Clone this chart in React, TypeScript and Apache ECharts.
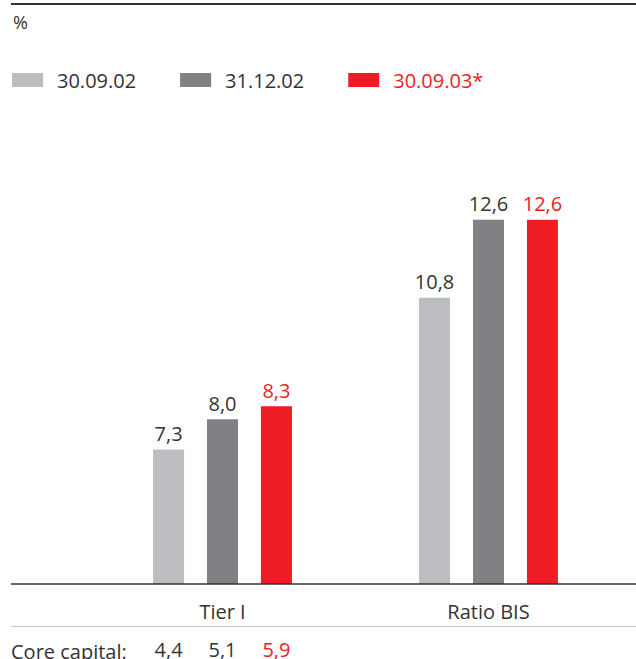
import React, { useEffect, useRef } from "react";
import * as echarts from "echarts";

const categories = ["Tier I", "Ratio BIS"];
const seriesNames = ["30.09.02", "31.12.02", "30.09.03*"];
const values = [
  [7.3, 10.8],
  [8.0, 12.6],
  [8.3, 12.6],
];
const coreCapital = [4.4, 5.1, 5.9];
const colors = ["#bcbdc1", "#808185", "#ee1c25"];
const labelColors = ["#333333", "#333333", "#ee1c25"];

const FONT = "'Open Sans', 'Noto Sans', sans-serif";

export default function App() {
  const ref = useRef<HTMLDivElement>(null);
  useEffect(() => {
    if (!ref.current) return;
    const chart = echarts.init(ref.current, null, { renderer: "svg" });
    const fmt = (v: number) => v.toFixed(1).replace(".", ",");

    const mainSeries = seriesNames.map((name, i) => ({
      name,
      type: "bar",
      xAxisIndex: 0,
      yAxisIndex: 0,
      barWidth: 31,
      barGap: "74%",
      data: values[i],
      itemStyle: { color: colors[i] },
      label: {
        show: true,
        position: "top",
        distance: 6,
        fontFamily: FONT,
        fontSize: 20,
        color: labelColors[i],
        formatter: (p: any) => fmt(p.value),
      },
    }));

    const coreSeries = seriesNames.map((name, i) => ({
      name: name + "_core",
      type: "bar",
      xAxisIndex: 1,
      yAxisIndex: 1,
      barWidth: 31,
      barGap: "74%",
      data: [coreCapital[i], null],
      itemStyle: { color: "transparent" },
      silent: true,
      label: {
        show: true,
        position: "insideBottom",
        distance: 0,
        fontFamily: FONT,
        fontSize: 20,
        lineHeight: 20,
        color: labelColors[i],
        formatter: (p: any) => fmt(p.value),
      },
    }));

    chart.setOption({
      animation: false,
      backgroundColor: "#ffffff",
      legend: {
        data: seriesNames.map((n, i) => ({
          name: n,
          textStyle: { color: labelColors[i] },
        })),
        left: 12,
        top: 70,
        padding: 0,
        icon: "rect",
        itemWidth: 31,
        itemHeight: 14,
        itemGap: 44,
        textStyle: {
          fontFamily: FONT,
          fontSize: 20,
          lineHeight: 20,
          padding: [0, 0, 0, 9],
        },
        selectedMode: false,
      },
      grid: [
        { left: 89.5, width: 532, top: 159, height: 425 },
        { left: 89.5, width: 532, top: 600, height: 61 },
      ],
      xAxis: [
        {
          type: "category",
          gridIndex: 0,
          data: categories,
          axisLine: { show: false },
          axisTick: { show: false },
          axisLabel: {
            fontFamily: FONT,
            fontSize: 20,
            lineHeight: 20,
            color: "#333333",
            margin: 17,
          },
        },
        {
          type: "category",
          gridIndex: 1,
          data: categories,
          show: false,
        },
      ],
      yAxis: [
        { type: "value", gridIndex: 0, min: 4.2, max: 14, show: false, splitLine: { show: false } },
        { type: "value", gridIndex: 1, min: 0, max: 10, show: false, splitLine: { show: false } },
      ],
      graphic: [
        {
          type: "line",
          shape: { x1: 11, y1: 4, x2: 636, y2: 4 },
          style: { stroke: "#333333", lineWidth: 2 },
        },
        {
          type: "text",
          left: 13,
          top: 13,
          style: { text: "%", fontFamily: FONT, fontSize: 18, fill: "#333333" },
        },
        {
          type: "line",
          shape: { x1: 11, y1: 584, x2: 636, y2: 584 },
          style: { stroke: "#333333", lineWidth: 1.5 },
          z: 10,
        },
        {
          type: "line",
          shape: { x1: 11, y1: 626.5, x2: 636, y2: 626.5 },
          style: { stroke: "#c8c8c8", lineWidth: 1 },
        },
        {
          type: "text",
          left: 11,
          top: 641,
          style: { text: "Core capital:", fontFamily: FONT, fontSize: 20, fill: "#333333" },
        },
      ],
      series: [...mainSeries, ...coreSeries],
    });
    return () => chart.dispose();
  }, []);
  return (
    <div
      ref={ref}
      style={{ position: "fixed", left: 0, top: 0, width: 636, height: 659 }}
    />
  );
}
